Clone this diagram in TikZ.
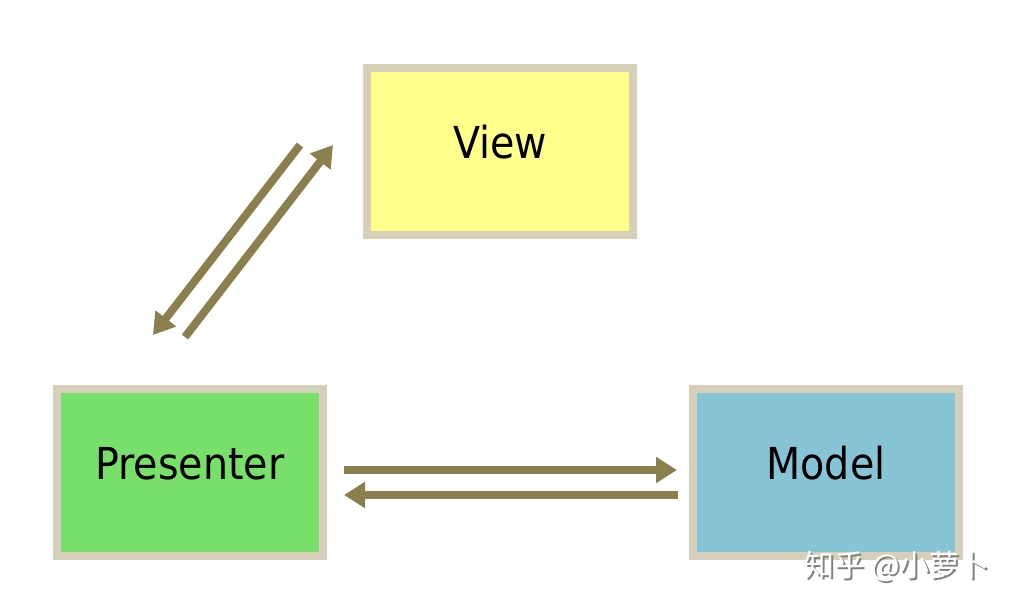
\documentclass[tikz,border=0pt]{standalone}
\usepackage{fontspec}
\setmainfont{DejaVu Sans Condensed}
\newfontfamily\cjk{Noto Sans CJK SC}
\usetikzlibrary{arrows.meta}
\definecolor{rim}{HTML}{D6CFB9}
\definecolor{viewyellow}{HTML}{FFFF8C}
\definecolor{presgreen}{HTML}{78E06A}
\definecolor{modelblue}{HTML}{87C4D6}
\definecolor{olive}{HTML}{8C7F4E}
\tikzset{
	box/.style={draw=rim, line width=8pt, minimum width=266pt, minimum height=167pt,
		font=\fontsize{44}{50}\selectfont, text height=32pt, text depth=18pt},
	flow/.style={draw=olive, line width=8pt, -{Triangle[length=21pt,width=25pt]}}
}
\begin{document}
\begin{tikzpicture}[x=1pt,y=-1pt]
		\useasboundingbox (0,0) rectangle (1018,608);
		\node[box, fill=viewyellow] (view) at (500,151) {View};
		\node[box, fill=presgreen] (pres) at (190,472.5) {Presenter};
		\node[box, fill=modelblue] (model) at (826,472.5) {Model};
		\draw[flow] ([shift={(-63pt,6pt)}]view.west) -- ([shift={(-37pt,50pt)}]pres.north);
		\draw[flow] ([shift={(-5pt,48pt)}]pres.north) -- ([shift={(-30pt,6pt)}]view.west);
		\draw[flow, shorten <=17pt, shorten >=12pt] ([yshift=2.5pt]pres.east) -- ([yshift=2.5pt]model.west);
		\draw[flow, shorten <=11pt, shorten >=17pt] ([yshift=-22.5pt]model.west) -- ([yshift=-22.5pt]pres.east);
		\node[gray, font=\cjk\fontsize{30}{32}\selectfont] (markshadow) at (899,568) {知乎 @小萝卜};
		\node[white, font=\cjk\fontsize{30}{32}\selectfont] (mark) at (897,566) {知乎 @小萝卜};
	\end{tikzpicture}
\end{document}
